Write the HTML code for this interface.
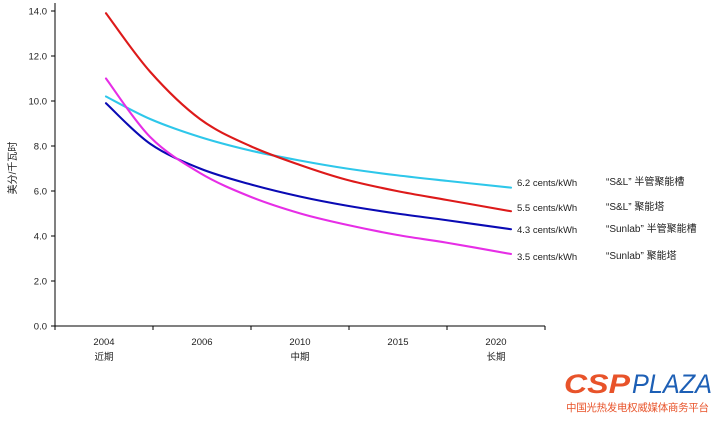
<!DOCTYPE html>
<html><head><meta charset="utf-8"><style>
body{margin:0;background:#fff;width:717px;height:419px;overflow:hidden;font-family:"Liberation Sans","Noto Sans CJK SC",sans-serif}
</style></head><body>
<svg width="717" height="419" id="c" style="font-family:'Liberation Sans','Noto Sans CJK SC',sans-serif">
<g id="axes"></g><g id="series"></g>
<text x="16" y="168" font-size="10" fill="#222" transform="rotate(-90 16 168)" text-anchor="middle">美分/千瓦时</text>
<g>
<text x="564" y="393" font-size="27" font-weight="bold" font-style="italic" fill="#e8532a" textLength="66" lengthAdjust="spacingAndGlyphs">CSP</text>
<text x="632" y="393" font-size="27" font-style="italic" fill="#1d5fb5" textLength="80" lengthAdjust="spacingAndGlyphs">PLAZA</text>
<text x="566" y="411" font-size="10.5" fill="#e8532a" textLength="143">中国光热发电权威媒体商务平台</text>
</g>
</svg>
<script>
const yTicks=[0,2,4,6,8,10,12,14];
const categories=["2004","2006","2010","2015","2020"];
const subLabels=["近期","","中期","","长期"];
const sampleT=[0,0.109,0.232,0.356,0.48,0.594,0.718,0.842,1];
const redVals=[13.9,11.3,9.2,8.0,7.15,6.5,6.0,5.6,5.1];
const cyanVals=[10.2,9.2,8.4,7.8,7.35,7.0,6.7,6.45,6.15];
const blueVals=[9.9,8.1,7.0,6.3,5.75,5.35,5.0,4.7,4.3];
const magVals=[11.0,8.4,6.8,5.75,5.0,4.5,4.05,3.7,3.2];
const endLabels=["6.2 cents/kWh","5.5 cents/kWh","4.3 cents/kWh","3.5 cents/kWh"];
const names=["“S&L” 半管聚能槽","“S&L” 聚能塔","“Sunlab” 半管聚能槽","“Sunlab” 聚能塔"];
const NS="http://www.w3.org/2000/svg";
const y=v=>326-v*22.5, x=t=>106+t*405;
const ax=document.getElementById('axes'), se=document.getElementById('series');
function mk(tag,at,p){const e=document.createElementNS(NS,tag);for(const k in at)e.setAttribute(k,at[k]);p.appendChild(e);return e;}
let l=mk('line',{x1:55,y1:3,x2:55,y2:326,stroke:'#000','stroke-width':1},ax);


l=mk('line',{x1:55,y1:326,x2:545,y2:326,stroke:'#000','stroke-width':1},ax);


yTicks.forEach(v=>{mk('line',{x1:51,x2:55,y1:y(v),y2:y(v),stroke:'#000'},ax);
const t=mk('text',{x:47,y:y(v)+3.5,'font-size':9.5,'text-anchor':'end',fill:'#222'},ax);t.textContent=v.toFixed(1);

});
const cw=98;
for(let i=0;i<=categories.length;i++)mk('line',{x1:55+i*cw,x2:55+i*cw,y1:326,y2:330,stroke:'#000'},ax);
categories.forEach((c,i)=>{const cx=55+cw*(i+0.5);
let t=mk('text',{x:cx,y:345,'font-size':9.5,'text-anchor':'middle',fill:'#222'},ax);t.textContent=c;


if(subLabels[i]){t=mk('text',{x:cx,y:360,'font-size':9.5,'text-anchor':'middle',fill:'#222'},ax);t.textContent=subLabels[i];

}});
function path(vals){const p=vals.map((v,i)=>[x(sampleT[i]),y(v)]);let d='M'+p[0];
for(let i=0;i<p.length-1;i++){const a=p[Math.max(0,i-1)],b=p[i],c=p[i+1],e=p[Math.min(p.length-1,i+2)];
d+=' C'+(b[0]+(c[0]-a[0])/6)+','+(b[1]+(c[1]-a[1])/6)+' '+(c[0]-(e[0]-b[0])/6)+','+(c[1]-(e[1]-b[1])/6)+' '+c;}return d;}
const series=[[cyanVals,'#2ec7ea','series-sl-trough'],[redVals,'#dd1a1a','series-sl-tower'],[blueVals,'#0a0ab4','series-sunlab-trough'],[magVals,'#e62ee6','series-sunlab-tower']];
series.forEach(([v,c,n])=>{const p=mk('path',{d:path(v),fill:'none',stroke:c,'stroke-width':2.1,'stroke-linecap':'round'},se);

});
const ly=[186,211,233,260];
endLabels.forEach((s,i)=>{let t=mk('text',{x:517,y:ly[i],'font-size':9.5,fill:'#222'},se);t.textContent=s;


t=mk('text',{x:606,y:ly[i]-1,'font-size':10,fill:'#222'},se);t.textContent=names[i];

});
</script>
</body></html>
